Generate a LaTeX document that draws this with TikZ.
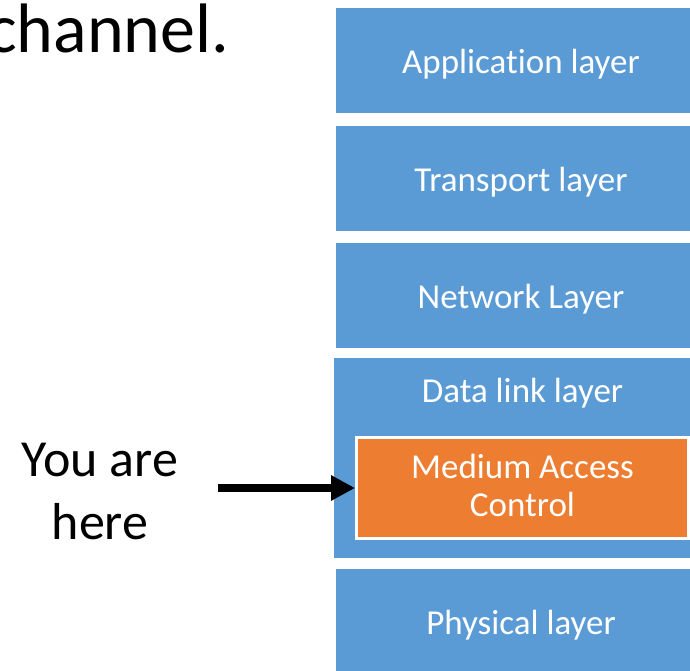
\documentclass[tikz,border=0pt]{standalone}
\usepackage{fontspec}
\setmainfont{Carlito}[Ligatures=NoCommon]
\usetikzlibrary{arrows.meta}
\definecolor{layerblue}{HTML}{5B9BD5}
\definecolor{macorange}{HTML}{ED7D31}
\begin{document}
\begin{tikzpicture}[x=1pt,y=-1pt,
  layerbox/.style={fill=layerblue, draw=none, minimum width=370pt, minimum height=105pt,
    inner sep=0pt, outer sep=0pt, text=white, font=\fontsize{35}{38}\selectfont,
    text height=25pt, text depth=0pt},
  macbox/.style={fill=macorange, draw=white, line width=3pt, minimum width=332pt,
    minimum height=101pt, inner sep=0pt, text=white, align=center,
    font=\fontsize{35}{38}\selectfont},
  plaintext/.style={inner sep=0pt, text=black},
  pointer/.style={line width=8pt, -{Triangle[length=24pt,width=24pt]}}
]
\useasboundingbox (0,0) rectangle (690,670);
\clip (0,0) rectangle (690,670);

\node[plaintext, anchor=base west, font=\fontsize{70}{84}\selectfont] (title) at (-13,52) {channel.};

\node[layerbox] (app) at (521,60.5) {Application layer};
\node[layerbox] (trans) at (521,178.5) {Transport layer};
\node[layerbox] (net) at (521,295.5) {Network Layer};
\node[layerbox, minimum width=376pt, minimum height=200pt, text height=0pt] (dll) at (522,458) {};
\node[text=white, inner sep=0pt, anchor=base, font=\fontsize{35}{38}\selectfont] (dlltext) at (522.5,402) {Data link layer};
\node[macbox] (mac) at (522.5,488) {Medium Access\\Control\rule[-6pt]{0pt}{6pt}};
\node[layerbox] (phys) at (521,621.5) {Physical layer};

\node[plaintext, align=center, font=\fontsize{52}{63}\selectfont] (here) at (100,491) {You are\\here};
\coordinate (start) at (218,488);
\draw[pointer] (start) -- (mac.west);
\end{tikzpicture}
\end{document}
